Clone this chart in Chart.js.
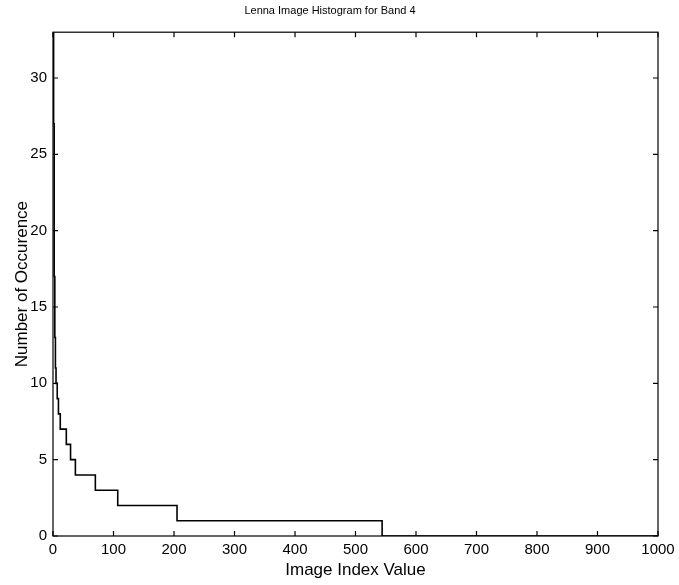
<!DOCTYPE html>
<html>
<head>
<meta charset="utf-8">
<script src="https://cdn.jsdelivr.net/npm/chart.js@4/dist/chart.umd.min.js"></script>
<style>
  html, body { margin: 0; padding: 0; background: #fff; }
  #wrap { width: 679px; height: 585px; }
</style>
</head>
<body>
<div id="wrap"><canvas id="hist"></canvas></div>
<script>
// 图像索引值直方图（阶梯线）
// 每一级台阶的起点和对应的出现次数
const indexStarts = [0, 1, 2, 3, 4, 5, 7, 9, 12, 22, 29, 37, 70, 107, 205, 544, 1000];
const occurrences = [33, 27, 17, 13, 11, 10, 9, 8, 7, 6, 5, 4, 3, 2, 1, 0, 0];
const xTicks = [0, 100, 200, 300, 400, 500, 600, 700, 800, 900, 1000];
const yTicks = [0, 5, 10, 15, 20, 25, 30];

const points = indexStarts.map((x, i) => ({ x: x, y: occurrences[i] }));

// 画外框和朝内的刻度线（上下左右都有）
const boxTicks = {
  id: 'boxTicks',
  afterDraw(chart) {
    const { ctx, chartArea: a, scales } = chart;
    const len = 5;
    ctx.save();
    ctx.strokeStyle = '#000';
    ctx.lineWidth = 1.2;
    ctx.strokeRect(a.left, a.top, a.right - a.left, a.bottom - a.top);
    ctx.beginPath();
    xTicks.forEach(v => {
      const px = scales.x.getPixelForValue(v);
      ctx.moveTo(px, a.bottom); ctx.lineTo(px, a.bottom - len);
      ctx.moveTo(px, a.top); ctx.lineTo(px, a.top + len);
    });
    yTicks.forEach(v => {
      const py = scales.y.getPixelForValue(v);
      ctx.moveTo(a.left, py); ctx.lineTo(a.left + len, py);
      ctx.moveTo(a.right, py); ctx.lineTo(a.right - len, py);
    });
    ctx.stroke();
    ctx.restore();
  }
};

Chart.defaults.font.family = '"Liberation Sans", Arial, Helvetica, sans-serif';
Chart.defaults.color = '#000';

const canvas = document.getElementById('hist');
const chart = new Chart(canvas.getContext('2d'), {
  type: 'line',
  data: {
    datasets: [{
      label: 'Band 4',
      data: points,
      stepped: true,
      borderColor: '#000',
      borderWidth: 1.6,
      pointRadius: 0,
      fill: false
    }]
  },
  options: {
    responsive: true,
    maintainAspectRatio: false,
    animation: false,
    layout: { padding: { left: 2, right: 21, top: 0, bottom: 0 } },
    plugins: {
      legend: { display: false },
      tooltip: { enabled: false },
      title: {
        display: true,
        text: 'Lenna Image Histogram for Band 4',
        font: { size: 11, weight: 'normal' },
        padding: { top: 4, bottom: 15 }
      }
    },
    scales: {
      x: {
        type: 'linear',
        min: 0,
        max: 1000,
        grid: { display: false, drawTicks: false },
        border: { display: false },
        afterBuildTicks: s => { s.ticks = xTicks.map(v => ({ value: v })); },
        afterFit: s => { s.height = 49; s.paddingRight = 0; },
        ticks: { font: { size: 15 }, padding: 5, maxRotation: 0, callback: v => String(v) },
        title: {
          display: true,
          text: 'Image Index Value',
          font: { size: 17 },
          padding: { top: 4, bottom: 4 }
        }
      },
      y: {
        type: 'linear',
        min: 0,
        max: 33,
        grid: { display: false, drawTicks: false },
        border: { display: false },
        afterBuildTicks: s => { s.ticks = yTicks.map(v => ({ value: v })); },
        afterFit: s => { s.width = 51; },
        ticks: { font: { size: 15 }, padding: 6, callback: v => String(v) },
        title: {
          display: true,
          text: 'Number of Occurence',
          font: { size: 17 },
          padding: { top: 10, bottom: 1 }
        }
      }
    }
  },
  plugins: [boxTicks]
});
</script>
</body>
</html>
